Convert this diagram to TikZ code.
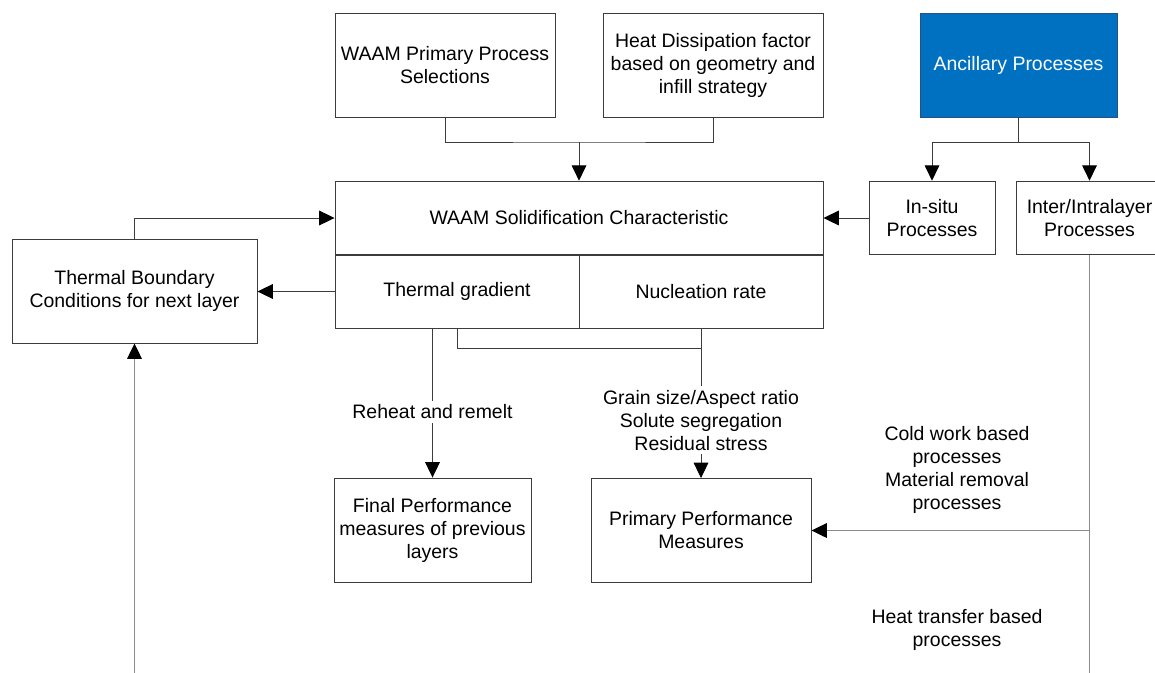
\documentclass[tikz,border=0pt]{standalone}
\usepackage{fontspec}
\setmainfont{Liberation Sans}
\usetikzlibrary{arrows.meta}
\definecolor{boxline}{RGB}{60,60,60}
\definecolor{longline}{RGB}{140,140,140}
\definecolor{ancfill}{RGB}{0,112,192}
\definecolor{ancline}{RGB}{40,80,130}
\tikzset{
  every node/.style={font=\fontsize{14.6}{17.25}\selectfont, align=center, inner sep=0pt},
  blk/.style={draw=boxline, line width=0.7pt, fill=white, minimum width=#1},
  blk/.default=165pt,
  tall/.style={minimum height=78pt},
  short/.style={minimum height=55.3pt},
  link/.style={draw=boxline, line width=0.65pt},
  tip/.style={-{Triangle[length=11.5pt,width=11pt,color=black]}},
  arr/.style={link, tip},
  glink/.style={draw=longline, line width=0.9pt},
  garr/.style={glink, tip},
  tag/.style={fill=white, inner xsep=2pt, inner ysep=3pt},
}
\begin{document}
\begin{tikzpicture}[x=0.75pt, y=-0.75pt]
\useasboundingbox (0,0) rectangle (1155,672);

% top row of inputs
\node[blk, tall] (prim) at (445,65) {WAAM Primary Process\\Selections};
\node[blk, tall] (heat) at (713,65) {Heat Dissipation factor\\based on geometry and\\infill strategy};
\node[blk=147.75pt, tall, fill=ancfill, draw=ancline, text=white] (anc) at (1018.5,65) {Ancillary Processes};

% solidification block with its two sub-cells
\node[blk=366pt, short] (sol) at (579,218) {WAAM Solidification Characteristic};
\node[blk=183pt, minimum height=54.75pt] (tg) at (457,291.5) {Thermal gradient};
\node[blk=183pt, minimum height=54.75pt] (nr) at (701,291.5) {Nucleation rate};

% ancillary sub-processes
\node[blk=94.5pt, short] (insitu) at (932,218) {In-situ\\Processes};
\node[blk=110.25pt, short] (inter) at (1089.5,218) {Inter/Intralayer\\Processes};

% left feedback box
\node[blk=183.75pt, tall] (tb) at (134.5,291) {Thermal Boundary\\Conditions for next layer};

% outputs
\node[blk=147.75pt, tall] (final) at (432.5,530) {Final Performance\\measures of previous\\layers};
\node[blk, tall] (ppm) at (701,530.5) {Primary Performance\\Measures};

% free labels on the right
\node (cold) at (957,469.5) {Cold work based\\processes\\Material removal\\processes};
\node (htb) at (957,629.5) {Heat transfer based\\processes};

% junction points and free ends
\coordinate (j1) at (579,142);
\coordinate (j2) at (1018.5,142);
\coordinate (j3) at (701,348);
\coordinate (lb) at (134.5,680);
\coordinate (rb) at (1089.5,680);

% inputs into solidification
\draw[link] (prim.south) |- (j1) -| (heat.south);
\draw[arr] (j1) -- (sol.north);
\draw[link] (anc.south) -- (j2);
\draw[arr] (j2) -| (insitu.north);
\draw[arr] (j2) -| (inter.north);
\draw[arr] (insitu.west) -- (insitu.west -| sol.east);

% thermal boundary loop
\draw[arr] (tb.north) |- (sol.west);
\draw[arr] (tg.west) -- (tg.west -| tb.east);
\draw[garr] (lb) -- (tb.south);

% downward results
\draw[arr] (final.north |- tg.south) -- node[tag, pos=0.56] {Reheat and remelt} (final.north);
\draw[link] (tg.south) |- (j3);
\draw[arr] (nr.south) -- node[tag, pos=0.613] {Grain size/Aspect ratio\\Solute segregation\\Residual stress} (ppm.north);

% inter/intralayer branch
\draw[glink] (inter.south) -- (rb);
\draw[garr] (inter.south |- ppm.east) -- (ppm.east);
\end{tikzpicture}
\end{document}
